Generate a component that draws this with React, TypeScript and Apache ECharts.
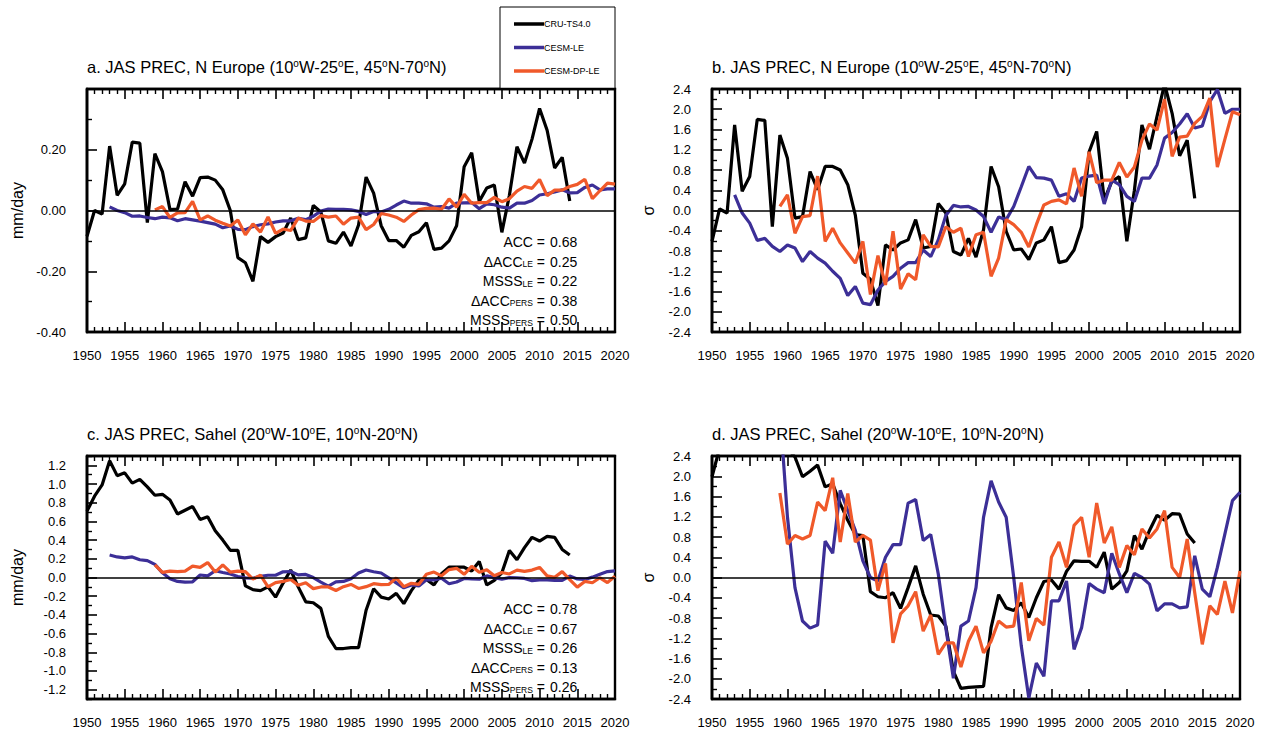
import React, { useEffect, useRef } from "react";
import * as echarts from "echarts";

// First year of each record
const CRU_START = 1950;
const LE_START = 1953;
const DP_START = 1959;

// a. JAS precipitation anomaly, N Europe (mm/day)
const cruEuropeMm = [
  -0.085, 0.0, -0.012, 0.212, 0.05, 0.088, 0.225, 0.222, -0.04, 0.187,
  0.128, 0.003, 0.005, 0.095, 0.047, 0.108, 0.11, 0.1, 0.068, 0.0,
  -0.155, -0.172, -0.233, -0.086, -0.105, -0.086, -0.074, -0.025, -0.096, -0.09,
  0.017, -0.005, -0.1, -0.108, -0.071, -0.117, -0.048, 0.11, 0.057, -0.05,
  -0.099, -0.099, -0.121, -0.082, -0.07, -0.04, -0.128, -0.124, -0.1, -0.05,
  0.144, 0.19, 0.03, 0.074, 0.084, -0.072, 0.05, 0.21, 0.156, 0.235,
  0.336, 0.264, 0.14, 0.175, 0.031,
];
const leEuropeMm = [
  0.012, 0.0, -0.007, -0.019, -0.018, -0.023, -0.027, -0.022, -0.024, -0.034,
  -0.027, -0.031, -0.035, -0.04, -0.045, -0.057, -0.051, -0.062, -0.063, -0.053,
  -0.047, -0.044, -0.038, -0.034, -0.034, -0.026, -0.03, -0.019, -0.002, 0.005,
  0.004, 0.004, 0.002, -0.003, -0.013, -0.003, -0.005, 0.004, 0.018, 0.031,
  0.024, 0.024, 0.022, 0.011, 0.013, 0.008, 0.024, 0.025, 0.026, 0.006,
  0.022, 0.019, 0.011, 0.008, 0.024, 0.024, 0.033, 0.051, 0.055, 0.061,
  0.068, 0.058, 0.059, 0.076, 0.084, 0.068, 0.071, 0.071,
];
const dpEuropeMm = [
  0.002, 0.013, -0.023, -0.008, -0.007, 0.03, -0.031, -0.018, -0.032, -0.042,
  -0.051, -0.031, -0.08, -0.044, -0.071, -0.021, -0.075, -0.061, -0.066, -0.025,
  -0.035, -0.036, -0.017, -0.022, -0.018, -0.045, -0.025, -0.022, -0.063, -0.046,
  -0.01, -0.015, -0.022, -0.036, -0.015, 0.003, 0.007, 0.008, 0.004, 0.038,
  0.011, 0.053, 0.024, 0.026, 0.026, 0.043, 0.029, 0.039, 0.064, 0.079,
  0.073, 0.102, 0.049, 0.067, 0.067, 0.079, 0.086, 0.103, 0.039, 0.065,
  0.09, 0.087,
];

// b. Same region, standardized (σ)
const cruEuropeStd = [
  -0.61, 0.03, -0.05, 1.69, 0.38, 0.67, 1.8, 1.78, -0.32, 1.49,
  1.03, -0.15, -0.12, 0.77, 0.41, 0.87, 0.87, 0.8, 0.51, -0.09,
  -1.24, -1.36, -1.88, -0.68, -0.78, -0.64, -0.58, -0.18, -0.74, -0.71,
  0.14, -0.05, -0.81, -0.88, -0.55, -0.92, -0.38, 0.87, 0.47, -0.41,
  -0.78, -0.76, -0.97, -0.64, -0.58, -0.32, -1.03, -0.99, -0.78, -0.32,
  1.16, 1.56, 0.21, 0.57, 0.67, -0.61, 0.4, 1.69, 1.21, 1.86,
  2.5, 1.92, 1.08, 1.39, 0.24,
];
const leEuropeStd = [
  0.31, -0.05, -0.25, -0.59, -0.55, -0.71, -0.81, -0.68, -0.74, -1.01,
  -0.81, -0.94, -1.04, -1.2, -1.34, -1.68, -1.5, -1.83, -1.86, -1.57,
  -1.4, -1.3, -1.14, -1.03, -1.03, -0.78, -0.91, -0.58, -0.1, 0.1,
  0.07, 0.08, 0.01, -0.12, -0.43, -0.13, -0.18, 0.08, 0.47, 0.87,
  0.65, 0.64, 0.6, 0.28, 0.33, 0.18, 0.64, 0.68, 0.7, 0.13,
  0.6, 0.51, 0.28, 0.18, 0.64, 0.64, 0.9, 1.43, 1.54, 1.71,
  1.91, 1.63, 1.67, 2.15, 2.39, 1.92, 2.0, 2.0,
];
const dpEuropeStd = [
  0.08, 0.31, -0.45, -0.12, -0.1, 0.68, -0.61, -0.35, -0.64, -0.84,
  -1.04, -0.61, -1.66, -0.89, -1.47, -0.41, -1.55, -1.25, -1.37, -0.48,
  -0.71, -0.72, -0.32, -0.43, -0.35, -0.91, -0.48, -0.43, -1.3, -0.94,
  -0.18, -0.28, -0.43, -0.72, -0.28, 0.11, 0.18, 0.21, 0.13, 0.84,
  0.28, 1.16, 0.55, 0.6, 0.6, 0.95, 0.66, 0.86, 1.39, 1.71,
  1.59, 2.2, 1.07, 1.45, 1.47, 1.72, 1.86, 2.22, 0.86, 1.41,
  1.95, 1.89,
];

// c. JAS precipitation anomaly, Sahel (mm/day)
const cruSahelMm = [
  0.71, 0.87, 0.99, 1.25, 1.09, 1.12, 1.01, 1.05, 0.97, 0.88,
  0.89, 0.83, 0.68, 0.72, 0.76, 0.62, 0.65, 0.5, 0.4, 0.29,
  0.29, -0.09, -0.13, -0.14, -0.1, -0.21, -0.06, 0.08, -0.1, -0.26,
  -0.27, -0.33, -0.63, -0.76, -0.76, -0.75, -0.75, -0.35, -0.12, -0.21,
  -0.23, -0.17, -0.28, -0.14, -0.03, -0.02, -0.08, 0.04, 0.11, 0.11,
  0.11, 0.07, 0.17, -0.08, -0.03, 0.05, 0.29, 0.19, 0.32, 0.43,
  0.39, 0.44, 0.43, 0.3, 0.24,
];
const leSahelMm = [
  0.24, 0.22, 0.21, 0.22, 0.19, 0.18, 0.14, 0.05, -0.013, -0.042,
  -0.049, -0.046, 0.027, 0.017, 0.072, 0.054, 0.037, 0.01, -0.004, -0.008,
  0.013, 0.024, 0.024, 0.061, 0.064, 0.028, 0.033, -0.001, -0.049, -0.092,
  -0.047, -0.042, -0.013, 0.048, 0.08, 0.062, 0.048, -0.004, -0.058, -0.11,
  -0.079, -0.091, -0.025, -0.025, -0.008, -0.067, -0.048, -0.01, -0.015, -0.018,
  0.017, -0.001, -0.018, -0.001, -0.004, -0.01, -0.034, -0.027, -0.027, -0.031,
  -0.03, 0.015, -0.015, -0.021, 0.004, 0.034, 0.063, 0.07,
];
const dpSahelMm = [
  0.136, 0.055, 0.069, 0.063, 0.069, 0.122, 0.108, 0.16, 0.058, 0.135,
  0.058, 0.069, 0.062, -0.018, 0.025, -0.101, -0.055, -0.042, -0.02, -0.082,
  -0.057, -0.119, -0.101, -0.101, -0.139, -0.098, -0.074, -0.117, -0.098, -0.066,
  -0.076, -0.074, -0.006, -0.098, -0.062, -0.073, 0.034, 0.058, 0.018, 0.085,
  0.098, 0.034, 0.12, 0.057, 0.082, 0.018, 0.053, 0.038, 0.079, 0.065,
  0.079, 0.108, 0.018, 0.002, 0.063, -0.022, -0.103, -0.042, -0.056, -0.003,
  -0.054, 0.013,
];

// d. Same region, standardized (σ)
const cruSahelStd = [
  1.99, 2.55, 2.85, 3.6, 3.1, 3.2, 2.9, 3.0, 2.78, 2.52,
  2.55, 2.38, 1.99, 2.1, 2.22, 1.79, 1.85, 1.46, 1.13, 0.85,
  0.83, -0.28, -0.38, -0.4, -0.3, -0.61, -0.2, 0.23, -0.33, -0.74,
  -0.76, -0.96, -1.85, -2.19, -2.17, -2.16, -2.15, -0.99, -0.34, -0.6,
  -0.65, -0.5, -0.79, -0.4, -0.08, -0.05, -0.23, 0.12, 0.33, 0.32,
  0.32, 0.2, 0.5, -0.23, -0.1, 0.13, 0.83, 0.56, 0.93, 1.23,
  1.13, 1.26, 1.25, 0.86, 0.68,
];
const leSahelStd = [
  5.5, 5.1, 4.8, 5.1, 4.4, 4.2, 3.3, 1.2, -0.2, -0.86,
  -1.0, -0.94, 0.72, 0.48, 1.72, 1.32, 0.93, 0.33, 0.0, -0.07,
  0.4, 0.65, 0.65, 1.47, 1.54, 0.73, 0.85, 0.07, -1.0, -1.99,
  -0.96, -0.86, -0.2, 1.19, 1.91, 1.49, 1.19, 0.0, -1.35, -2.38,
  -1.69, -1.95, -0.46, -0.46, -0.07, -1.42, -0.99, -0.12, -0.23, -0.3,
  0.48, 0.07, -0.3, 0.08, 0.0, -0.13, -0.66, -0.52, -0.52, -0.6,
  -0.58, 0.43, -0.23, -0.38, 0.2, 0.86, 1.52, 1.68,
];
const dpSahelStd = [
  1.67, 0.66, 0.83, 0.76, 0.83, 1.49, 1.32, 1.97, 0.7, 1.66,
  0.7, 0.83, 0.74, -0.26, 0.28, -1.29, -0.72, -0.56, -0.28, -1.06,
  -0.74, -1.52, -1.29, -1.29, -1.77, -1.26, -0.96, -1.49, -1.26, -0.86,
  -0.98, -0.96, -0.1, -1.25, -0.81, -0.94, 0.4, 0.7, 0.2, 1.03,
  1.19, 0.4, 1.47, 0.68, 1.0, 0.2, 0.63, 0.45, 0.96, 0.78,
  0.96, 1.32, 0.2, 0.0, 0.76, -0.3, -1.32, -0.56, -0.73, -0.07,
  -0.7, 0.13,
];

// Skill scores printed inside panels a and c
const statLabels = ["ACC", "ΔACC{sub|LE}", "MSSS{sub|LE}", "ΔACC{sub|PERS}", "MSSS{sub|PERS}"];
const statsEurope = ["0.68", "0.25", "0.22", "0.38", "0.50"];
const statsSahel = ["0.78", "0.67", "0.26", "0.13", "0.26"];

const legendNames = ["CRU-TS4.0", "CESM-LE", "CESM-DP-LE"];
const lineColors = ["#000000", "#3c2f97", "#f0592a"];

const panelTitles = [
  "a. JAS PREC, N Europe (10{o|o}W-25{o|o}E, 45{o|o}N-70{o|o}N)",
  "b. JAS PREC, N Europe (10{o|o}W-25{o|o}E, 45{o|o}N-70{o|o}N)",
  "c. JAS PREC, Sahel (20{o|o}W-10{o|o}E, 10{o|o}N-20{o|o}N)",
  "d. JAS PREC, Sahel (20{o|o}W-10{o|o}E, 10{o|o}N-20{o|o}N)",
];

const FONT = "Liberation Sans, Arial, Helvetica, sans-serif";

type Panel = {
  box: { left: number; top: number; width: number; height: number };
  yMin: number;
  yMax: number;
  major: number;
  minor: number;
  decimals: number;
  hideLabels: number[];
  yName: string;
  nameGap: number;
  series: [number, number[]][];
};

const panels: Panel[] = [
  {
    box: { left: 87, top: 89, width: 528, height: 243 },
    yMin: -0.4, yMax: 0.4, major: 0.2, minor: 0.1, decimals: 2, hideLabels: [0.4],
    yName: "mm/day", nameGap: 62,
    series: [[CRU_START, cruEuropeMm], [LE_START, leEuropeMm], [DP_START, dpEuropeMm]],
  },
  {
    box: { left: 712, top: 89, width: 528, height: 243 },
    yMin: -2.4, yMax: 2.4, major: 0.4, minor: 0.2, decimals: 1, hideLabels: [],
    yName: "σ", nameGap: 56,
    series: [[CRU_START, cruEuropeStd], [LE_START, leEuropeStd], [DP_START, dpEuropeStd]],
  },
  {
    box: { left: 87, top: 456, width: 528, height: 243 },
    yMin: -1.3, yMax: 1.3, major: 0.2, minor: 0.1, decimals: 1, hideLabels: [],
    yName: "mm/day", nameGap: 62,
    series: [[CRU_START, cruSahelMm], [LE_START, leSahelMm], [DP_START, dpSahelMm]],
  },
  {
    box: { left: 712, top: 456, width: 528, height: 243 },
    yMin: -2.4, yMax: 2.4, major: 0.4, minor: 0.2, decimals: 1, hideLabels: [],
    yName: "σ", nameGap: 56,
    series: [[CRU_START, cruSahelStd], [LE_START, leSahelStd], [DP_START, dpSahelStd]],
  },
];

const round6 = (v: number) => Math.round(v * 1e6) / 1e6;

// Values on [min, max] that are whole multiples of step
function multiplesIn(min: number, max: number, step: number): number[] {
  const out: number[] = [];
  const k0 = Math.ceil(min / step - 1e-9);
  const k1 = Math.floor(max / step + 1e-9);
  for (let k = k0; k <= k1; k++) out.push(round6(k * step));
  return out;
}

function buildOption() {
  const grid: any[] = [];
  const xAxis: any[] = [];
  const yAxis: any[] = [];
  const series: any[] = [];
  const graphic: any[] = [];

  panels.forEach((p, i) => {
    grid.push({
      ...p.box,
      show: true,
      borderColor: "#000",
      borderWidth: 2.4,
    });

    const makeX = (position: "bottom" | "top") => ({
      gridIndex: i,
      type: "value",
      position,
      min: 1950,
      max: 2020,
      interval: 5,
      axisLine: { show: true, onZero: false, lineStyle: { color: "#000", width: 2.4 } },
      axisTick: { show: true, inside: true, length: 10, lineStyle: { color: "#000", width: 1.6 } },
      minorTick: { show: true, splitNumber: 5, length: 5, lineStyle: { color: "#000", width: 1.4 } },
      splitLine: { show: false },
      minorSplitLine: { show: false },
      axisLabel:
        position === "bottom"
          ? {
              show: true,
              margin: 17,
              fontSize: 13,
              color: "#000",
              fontFamily: FONT,
              formatter: (v: number) => String(Math.round(v)),
            }
          : { show: false },
    });
    xAxis.push(makeX("bottom"));
    xAxis.push(makeX("top"));

    const majors = multiplesIn(p.yMin, p.yMax, p.major);
    const minors = multiplesIn(p.yMin, p.yMax, p.minor).filter(
      (v) => !majors.some((m) => Math.abs(m - v) < 1e-6)
    );
    const labels = majors.filter((v) => !p.hideLabels.some((h) => Math.abs(h - v) < 1e-6));

    yAxis.push({
      gridIndex: i,
      type: "value",
      position: "left",
      min: p.yMin,
      max: p.yMax,
      axisLine: { show: true, onZero: false, lineStyle: { color: "#000", width: 2.4 } },
      axisTick: {
        show: true,
        inside: true,
        length: 10,
        lineStyle: { color: "#000", width: 1.6 },
        customValues: majors,
      },
      axisLabel: {
        show: true,
        customValues: labels,
        margin: 21,
        fontSize: 13,
        color: "#000",
        fontFamily: FONT,
        formatter: (v: number) => {
          const r = Math.abs(v) < 1e-9 ? 0 : v;
          return r.toFixed(p.decimals);
        },
      },
      splitLine: { show: false },
      name: p.yName,
      nameLocation: "middle",
      nameRotate: 90,
      nameGap: p.nameGap,
      nameTextStyle: { fontSize: 16, color: "#000", fontFamily: FONT },
    });
    yAxis.push({
      gridIndex: i,
      type: "value",
      position: "left",
      offset: 0,
      min: p.yMin,
      max: p.yMax,
      axisLine: { show: true, onZero: false, lineStyle: { color: "#000", width: 2.4 } },
      axisTick: {
        show: true,
        inside: true,
        length: 5,
        lineStyle: { color: "#000", width: 1.4 },
        customValues: minors,
      },
      axisLabel: { show: false },
      splitLine: { show: false },
    });

    p.series.forEach(([start, values], s) => {
      series.push({
        type: "line",
        name: legendNames[s],
        xAxisIndex: 2 * i,
        yAxisIndex: 2 * i,
        data: values.map((v, k) => [start + k, v]),
        showSymbol: false,
        lineStyle: { color: lineColors[s], width: 3.2 },
        itemStyle: { color: lineColors[s] },
        ...(s === 0
          ? {
              markLine: {
                silent: true,
                symbol: ["none", "none"],
                label: { show: false },
                lineStyle: { color: "#000", width: 1.6, type: "solid" },
                data: [{ yAxis: 0 }],
              },
            }
          : {}),
      });
    });

    graphic.push({
      type: "text",
      x: p.box.left,
      y: p.box.top - 22,
      style: {
        text: panelTitles[i],
        fontSize: 16.5,
        fontFamily: FONT,
        fill: "#000",
        align: "left",
        verticalAlign: "middle",
        rich: {
          o: { fontSize: 10, fontFamily: FONT, fill: "#000", verticalAlign: "top" },
        },
      },
    });
  });

  // Skill-score blocks in panels a and c
  [
    { box: panels[0].box, values: statsEurope },
    { box: panels[2].box, values: statsSahel },
  ].forEach(({ box, values }) => {
    values.forEach((val, k) => {
      const y = box.top + 153 + k * 19.6;
      graphic.push({
        type: "text",
        x: box.left + 458,
        y,
        style: {
          text: statLabels[k] + " =",
          fontSize: 14,
          fontFamily: FONT,
          fill: "#000",
          align: "right",
          verticalAlign: "middle",
          rich: {
            sub: { fontSize: 8.5, fontFamily: FONT, fill: "#000", verticalAlign: "bottom" },
          },
        },
      });
      graphic.push({
        type: "text",
        x: box.left + 463,
        y,
        style: {
          text: val,
          fontSize: 14,
          fontFamily: FONT,
          fill: "#000",
          align: "left",
          verticalAlign: "middle",
        },
      });
    });
  });

  // Legend box above panel a
  graphic.push({
    type: "rect",
    shape: { x: 500, y: 7, width: 115, height: 82 },
    style: { fill: "#fff", stroke: "#000", lineWidth: 1 },
  });
  legendNames.forEach((name, s) => {
    const y = 24 + s * 23.5;
    graphic.push({
      type: "line",
      shape: { x1: 514, y1: y, x2: 544, y2: y },
      style: { stroke: lineColors[s], lineWidth: 3.5 },
    });
    graphic.push({
      type: "text",
      x: 544,
      y,
      style: {
        text: name,
        fontSize: 9,
        fontFamily: FONT,
        fill: "#000",
        align: "left",
        verticalAlign: "middle",
      },
    });
  });

  return {
    animation: false,
    grid,
    xAxis,
    yAxis,
    series,
    graphic,
  };
}

export default function App() {
  const ref = useRef<HTMLDivElement>(null);

  useEffect(() => {
    if (!ref.current) return;
    const chart = echarts.init(ref.current, undefined, { renderer: "svg" });
    chart.setOption(buildOption() as any);
    return () => chart.dispose();
  }, []);

  return (
    <div
      ref={ref}
      style={{ position: "absolute", left: 0, top: 0, width: 1265, height: 736, background: "#fff" }}
    />
  );
}
